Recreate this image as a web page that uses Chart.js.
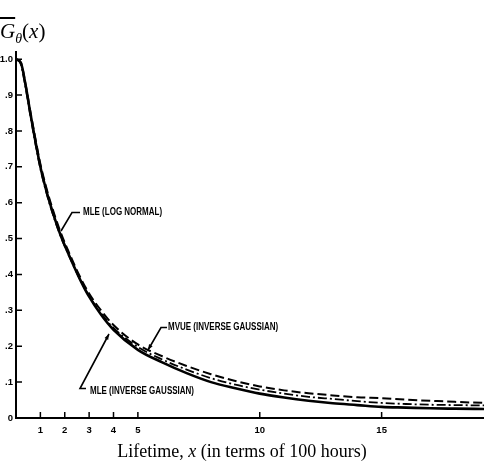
<!DOCTYPE html>
<html>
<head>
<meta charset="utf-8">
<script src="https://cdn.jsdelivr.net/npm/chart.js@4/dist/chart.umd.min.js"></script>
<style>
    body { margin: 0; background: #fff; }
    #wrap { position: relative; width: 484px; height: 470px; }
    #yTitle { position: absolute; left: 0; top: 19px; font: 21px "Liberation Serif", "DejaVu Serif", serif; color: #000; }
    #yTitle .g { font-style: italic; text-decoration: overline; }
    #yTitle sub { font-style: italic; font-size: 14px; }
    #xTitle { position: absolute; left: 0; width: 484px; top: 441px; text-align: center; font: 18px "Liberation Serif", "DejaVu Serif", serif; color: #000; }
</style>
</head>
<body>
<div id="wrap">
    <canvas id="lifeChart" width="484" height="470"></canvas>
    <div id="yTitle"><span class="g">G</span><sub>θ</sub>(<i>x</i>)</div>
    <div id="xTitle">Lifetime, <i>x</i> (in terms of 100 hours)</div>
</div>
<script>
    // 수명 (100시간 단위)
    const lifetimeX = [0, 0.2, 0.4, 0.6, 0.8, 1.0, 1.2, 1.4, 1.8, 2.2, 2.6, 3.0, 3.5, 4, 5, 6, 7, 8, 9, 10, 11, 12, 13, 14, 15, 16, 17, 18, 19.2];

    // MLE (INVERSE GAUSSIAN) - 실선
    const mleInvGauss = [1.0, 0.99, 0.925, 0.845, 0.77, 0.70, 0.645, 0.597, 0.515, 0.45, 0.39, 0.338, 0.287, 0.246, 0.19, 0.155, 0.125, 0.10, 0.083, 0.068, 0.057, 0.048, 0.041, 0.036, 0.031, 0.029, 0.027, 0.026, 0.025];
    // MVUE (INVERSE GAUSSIAN) - 파선
    const mvueInvGauss = [1.0, 0.99, 0.927, 0.85, 0.777, 0.708, 0.653, 0.605, 0.523, 0.457, 0.397, 0.347, 0.299, 0.259, 0.205, 0.172, 0.145, 0.122, 0.103, 0.088, 0.077, 0.069, 0.063, 0.058, 0.055, 0.051, 0.048, 0.045, 0.042];
    // MLE (LOG NORMAL) - 일점쇄선
    const mleLogNormal = [1.0, 0.985, 0.918, 0.838, 0.763, 0.695, 0.64, 0.592, 0.512, 0.448, 0.39, 0.34, 0.291, 0.251, 0.198, 0.163, 0.135, 0.111, 0.093, 0.079, 0.068, 0.059, 0.053, 0.047, 0.042, 0.039, 0.037, 0.036, 0.035];

    // 축 눈금
    const xTicks = [1, 2, 3, 4, 5, 10, 15];
    const yTicks = [0, 0.1, 0.2, 0.3, 0.4, 0.5, 0.6, 0.7, 0.8, 0.9, 1.0];
    const yTickLabels = ['0', '.1', '.2', '.3', '.4', '.5', '.6', '.7', '.8', '.9', '1.0'];

    const tickFont = { family: '"Liberation Sans", Arial, sans-serif', weight: 'bold', size: 9.5 };
    const noteFont = 'bold 10px "Liberation Sans", Arial, sans-serif';

    function toPoints(ys) {
        return lifetimeX.map((x, i) => ({ x: x, y: ys[i] }));
    }

    function arrowHead(ctx, x1, y1, x2, y2) {
        const a = Math.atan2(y2 - y1, x2 - x1);
        ctx.beginPath();
        ctx.moveTo(x2, y2);
        ctx.lineTo(x2 - 6 * Math.cos(a - 0.35), y2 - 6 * Math.sin(a - 0.35));
        ctx.lineTo(x2 - 6 * Math.cos(a + 0.35), y2 - 6 * Math.sin(a + 0.35));
        ctx.closePath();
        ctx.fill();
    }

    // 좁은 글씨 (가로 압축)
    function narrowText(ctx, text, x, y) {
        ctx.save();
        ctx.translate(x, y);
        ctx.scale(0.8, 1);
        ctx.fillText(text, 0, 0);
        ctx.restore();
    }

    // 안쪽 눈금 + 주석
    const insideTicks = {
        id: 'insideTicks',
        afterDraw(chart) {
            const ctx = chart.ctx;
            const xs = chart.scales.x;
            const ys = chart.scales.y;
            const area = chart.chartArea;
            ctx.save();
            ctx.strokeStyle = '#000';
            ctx.fillStyle = '#000';
            ctx.lineWidth = 1.5;
            ctx.beginPath();
            yTicks.forEach(v => {
                if (v === 0) return;
                const py = ys.getPixelForValue(v);
                ctx.moveTo(area.left, py);
                ctx.lineTo(area.left + 6, py);
            });
            xTicks.forEach(v => {
                const px = xs.getPixelForValue(v);
                ctx.moveTo(px, area.bottom);
                ctx.lineTo(px, area.bottom - 6);
            });
            ctx.stroke();

            // 지시선
            ctx.lineWidth = 1.6;
            ctx.beginPath();
            ctx.moveTo(61, 231); ctx.lineTo(72, 212.5); ctx.lineTo(80, 212.5);
            ctx.moveTo(148, 350); ctx.lineTo(161, 327.5); ctx.lineTo(167, 327.5);
            ctx.moveTo(86, 388.5); ctx.lineTo(80, 388.5); ctx.lineTo(109, 334);
            ctx.stroke();
            arrowHead(ctx, 80, 388.5, 109, 334);
            arrowHead(ctx, 161, 327.5, 148, 350);

            ctx.font = noteFont;
            ctx.textBaseline = 'middle';
            narrowText(ctx, 'MLE (LOG NORMAL)', 83, 212.5);
            narrowText(ctx, 'MVUE (INVERSE GAUSSIAN)', 168, 327.5);
            narrowText(ctx, 'MLE (INVERSE GAUSSIAN)', 90, 391.5);
            ctx.restore();
        }
    };

    const lifeChart = document.getElementById('lifeChart');

    new Chart(lifeChart, {
        type: 'line',
        data: {
            datasets: [{
                label: 'MLE (INVERSE GAUSSIAN)',
                data: toPoints(mleInvGauss),
                borderColor: '#000',
                borderWidth: 2.6,
                pointRadius: 0,
                cubicInterpolationMode: 'monotone'
            }, {
                label: 'MVUE (INVERSE GAUSSIAN)',
                data: toPoints(mvueInvGauss),
                borderColor: '#000',
                borderWidth: 2,
                borderDash: [9, 4],
                pointRadius: 0,
                cubicInterpolationMode: 'monotone'
            }, {
                label: 'MLE (LOG NORMAL)',
                data: toPoints(mleLogNormal),
                borderColor: '#000',
                borderWidth: 1.8,
                borderDash: [9, 3, 2, 3],
                pointRadius: 0,
                cubicInterpolationMode: 'monotone'
            }]
        },
        options: {
            responsive: false,
            animation: false,
            layout: { padding: { top: 52, right: 0, left: 0, bottom: 0 } },
            plugins: {
                legend: { display: false },
                tooltip: { enabled: false }
            },
            scales: {
                x: {
                    type: 'linear',
                    min: 0,
                    max: 19.2,
                    afterBuildTicks: scale => { scale.ticks = xTicks.map(v => ({ value: v })); },
                    afterFit: scale => { scale.height = 52; },
                    grid: { display: false, drawTicks: false },
                    border: { display: true, color: '#000', width: 2 },
                    ticks: { color: '#000', font: tickFont, padding: 7, maxRotation: 0 }
                },
                y: {
                    min: 0,
                    max: 1.02,
                    afterBuildTicks: scale => { scale.ticks = yTicks.map(v => ({ value: v })); },
                    afterFit: scale => { scale.width = 16; },
                    grid: { display: false, drawTicks: false },
                    border: { display: true, color: '#000', width: 2 },
                    ticks: {
                        color: '#000',
                        font: tickFont,
                        padding: 3,
                        callback: (v) => yTickLabels[yTicks.findIndex(t => Math.abs(t - v) < 1e-6)]
                    }
                }
            }
        },
        plugins: [insideTicks]
    });
</script>
</body>
</html>
